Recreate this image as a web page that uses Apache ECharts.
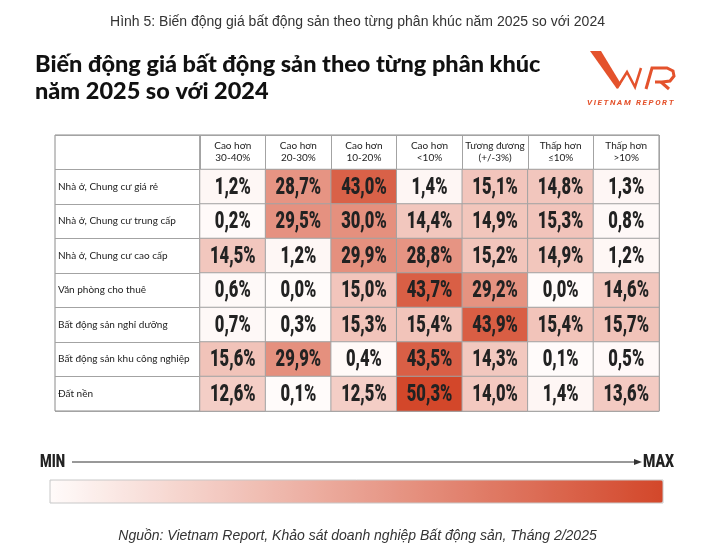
<!DOCTYPE html>
<html><head><meta charset="utf-8">
<script src="https://cdn.jsdelivr.net/npm/echarts@6/dist/echarts.min.js"></script>
<style>html,body{margin:0;padding:0;background:#fff}#c{width:715px;height:549px}</style>
</head><body><div id="c"></div>
<script>
var columns = ['Cao hơn\n30-40%','Cao hơn\n20-30%','Cao hơn\n10-20%','Cao hơn\n<10%','Tương đương\n(+/-3%)','Thấp hơn\n≤10%','Thấp hơn\n>10%'];
var segments = ['Nhà ở, Chung cư giá rẻ','Nhà ở, Chung cư trung cấp','Nhà ở, Chung cư cao cấp','Văn phòng cho thuê','Bất động sản nghỉ dưỡng','Bất động sản khu công nghiệp','Đất nền'];
var rowGiaRe     = [1.2, 28.7, 43.0, 1.4, 15.1, 14.8, 1.3];
var rowTrungCap  = [0.2, 29.5, 30.0, 14.4, 14.9, 15.3, 0.8];
var rowCaoCap    = [14.5, 1.2, 29.9, 28.8, 15.2, 14.9, 1.2];
var rowVanPhong  = [0.6, 0.0, 15.0, 43.7, 29.2, 0.0, 14.6];
var rowNghiDuong = [0.7, 0.3, 15.3, 15.4, 43.9, 15.4, 15.7];
var rowKCN       = [15.6, 29.9, 0.4, 43.5, 14.3, 0.1, 0.5];
var rowDatNen    = [12.6, 0.1, 12.5, 50.3, 14.0, 1.4, 13.6];
var allRows = [rowGiaRe, rowTrungCap, rowCaoCap, rowVanPhong, rowNghiDuong, rowKCN, rowDatNen];

var yCats = [''].concat(segments);
var data = [];
allRows.forEach(function (r, ri) { r.forEach(function (v, ci) { data.push([ci, ri + 1, v]); }); });

function fmt(v) { return v.toFixed(1).replace('.', ',') + '%'; }
var lineCol = '#a3a3a3';
var logoCol = '#e4522c';
var thin = '\u2009';
var chart = echarts.init(document.getElementById('c'));
chart.setOption({
  animation: false,
  backgroundColor: '#fff',
  title: [
    {text: 'Hình 5: Biến động giá bất động sản theo từng phân khúc năm 2025 so với 2024', left: 'center', top: 10,
     textStyle: {fontFamily: 'Liberation Sans', fontSize: 14, fontWeight: 'normal', color: '#333'}},
    {text: 'Biến động giá bất động sản theo từng phân khúc\nnăm 2025 so với 2024', left: 30, top: 46,
     textStyle: {fontFamily: 'Lato', fontSize: 23.5, fontWeight: 900, color: '#111', lineHeight: 27}},
    {text: 'Nguồn: Vietnam Report, Khảo sát doanh nghiệp Bất động sản, Tháng 2/2025', left: 'center', top: 524,
     textStyle: {fontFamily: 'Liberation Sans', fontSize: 14, fontStyle: 'italic', fontWeight: 'normal', color: '#333'}}
  ],
  grid: [
    {left: 55, width: 145, top: 135, height: 276, show: true, borderColor: '#8a8a8a', borderWidth: 1},
    {left: 200, right: 56, top: 135, height: 276, show: true, borderColor: '#8a8a8a', borderWidth: 1}
  ],
  xAxis: [
    {gridIndex: 0, type: 'category', data: [''], show: false},
    {gridIndex: 1, type: 'category', data: columns, position: 'top',
     axisLine: {show: false}, axisTick: {show: false},
     splitLine: {show: true, interval: 0, lineStyle: {color: lineCol, width: 1}},
     axisLabel: {interval: 0, margin: -17, verticalAlign: 'middle', fontFamily: 'Lato', fontSize: 10, lineHeight: 12, color: '#222'}}
  ],
  yAxis: [
    {gridIndex: 0, type: 'category', data: yCats, inverse: true,
     axisLine: {show: false}, axisTick: {show: false},
     splitLine: {show: true, interval: 0, lineStyle: {color: lineCol, width: 1}},
     axisLabel: {interval: 0, margin: -3, align: 'left', fontFamily: 'Lato', fontSize: 10, color: '#222'}},
    {gridIndex: 1, type: 'category', data: yCats, inverse: true,
     axisLine: {show: false}, axisTick: {show: false}, axisLabel: {show: false},
     splitLine: {show: true, interval: 0, lineStyle: {color: lineCol, width: 1}}}
  ],
  visualMap: {
    type: 'continuous', min: 0, max: 50.3, orient: 'horizontal', left: 50, top: 480,
    itemWidth: 23, itemHeight: 613, padding: 0, calculable: false, hoverLink: false,
    seriesIndex: 0, inRange: {color: ['#fffbfa', '#d3472a']}
  },
  series: [{
    type: 'heatmap', xAxisIndex: 1, yAxisIndex: 1, data: data,
    itemStyle: {borderColor: lineCol, borderWidth: 1},
    label: {show: false}
  }, {
    type: 'custom', coordinateSystem: 'cartesian2d', xAxisIndex: 1, yAxisIndex: 1, data: data, z: 5,
    renderItem: function (params, api) {
      var p = api.coord([api.value(0), api.value(1)]);
      return {type: 'text', x: p[0], y: p[1] + 1, scaleX: 0.72,
        style: {text: fmt(api.value(2)), font: '900 23px Roboto', fill: '#222', align: 'center', verticalAlign: 'middle'}};
    }
  }],
  graphic: [
    {type: 'rect', shape: {x: 50, y: 480, width: 613, height: 23}, style: {fill: 'none', stroke: '#c8c8c8', lineWidth: 1}, z: 100},
    {type: 'text', x: 40, y: 462, scaleX: 0.7, style: {text: 'MIN', font: '900 19px Roboto', fill: '#222', verticalAlign: 'middle'}},
    {type: 'text', x: 643, y: 462, scaleX: 0.74, style: {text: 'MAX', font: '900 19px Roboto', fill: '#222', verticalAlign: 'middle'}},
    {type: 'line', shape: {x1: 72, y1: 462, x2: 638, y2: 462}, style: {stroke: '#333', lineWidth: 1}},
    {type: 'polygon', shape: {points: [[642, 462], [634, 459], [634, 465]]}, style: {fill: '#333'}},
    {type: 'polygon', shape: {points: [[590, 51], [601, 51], [621, 84], [617, 89]]}, style: {fill: logoCol}},
    {type: 'polyline', shape: {points: [[617, 88], [627, 72], [635, 87], [641, 68]]}, style: {stroke: logoCol, lineWidth: 2.5, fill: null}},
    {type: 'polyline', shape: {points: [[646, 89], [652, 68], [667, 68], [673, 71], [674, 76], [670, 81], [662, 82], [655, 82]]}, style: {stroke: logoCol, lineWidth: 3, fill: null}},
    {type: 'line', shape: {x1: 661, y1: 82, x2: 669, y2: 89}, style: {stroke: logoCol, lineWidth: 3}},
    {type: 'text', x: 587, y: 99, style: {text: 'VIETNAM REPORT'.split('').join(thin), font: 'italic bold 8px Roboto', fill: logoCol}}
  ]
});
</script></body></html>
